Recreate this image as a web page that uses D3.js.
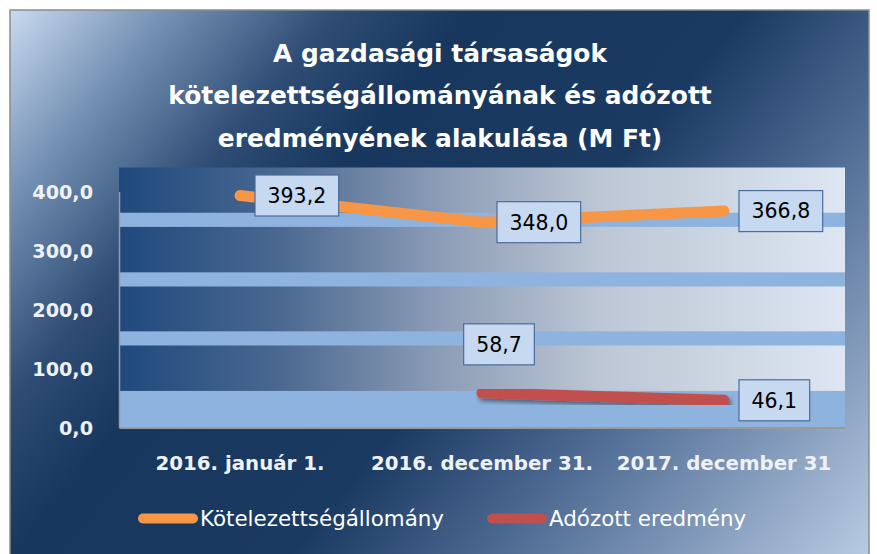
<!DOCTYPE html>
<html>
<head>
<meta charset="utf-8">
<script src="https://cdn.jsdelivr.net/npm/d3@7"></script>
<style>
  html, body { margin: 0; padding: 0; background: #ffffff; }
  svg { display: block; }
</style>
</head>
<body>
<svg id="chart" width="877" height="554"></svg>
<script>
// ---- data ----
const titleLines = [
  "A gazdasági társaságok",
  "kötelezettségállományának és adózott",
  "eredményének alakulása (M Ft)"
];
const categories = ["2016. január 1.", "2016. december 31.", "2017. december 31"];
const seriesNames = ["Kötelezettségállomány", "Adózott eredmény"];
const kotelezettseg = [393.2, 348.0, 366.8];
const adozott = [null, 58.7, 46.1];
const yTickValues = [0, 100, 200, 300, 400];
const bandRanges = [[0, 62], [139, 163], [239, 263], [340, 364]];

// ---- setup ----
const W = 877, H = 554;
const svg = d3.select("#chart");
const defs = svg.append("defs");

const outerGrad = defs.append("linearGradient")
  .attr("id", "outerGrad").attr("gradientUnits", "userSpaceOnUse")
  .attr("x1", 10).attr("y1", 10).attr("x2", 782).attr("y2", 658);
[[0, "#c9daf0"], [0.12, "#7591b4"], [0.25, "#2e4c74"], [0.35, "#17375e"],
 [0.56, "#1a3a62"], [0.7, "#48658e"], [0.85, "#7f97b8"], [1, "#b8cbe3"]]
  .forEach(([o, c]) => outerGrad.append("stop").attr("offset", o).attr("stop-color", c));

const plotGrad = defs.append("linearGradient")
  .attr("id", "plotGrad").attr("x1", 0).attr("y1", 0).attr("x2", 1).attr("y2", 0);
[[0, "#1f497d"], [0.22, "#4a6890"], [0.44, "#8c9cb6"], [0.66, "#bcc6d4"], [1, "#dde6f2"]]
  .forEach(([o, c]) => plotGrad.append("stop").attr("offset", o).attr("stop-color", c));

const shadow = defs.append("filter").attr("id", "shadow")
  .attr("x", "-20%").attr("y", "-50%").attr("width", "140%").attr("height", "200%");
shadow.append("feDropShadow").attr("dx", 2).attr("dy", 3).attr("stdDeviation", 2)
  .attr("flood-color", "#000").attr("flood-opacity", 0.45);

// outer chart area
svg.append("rect").attr("x", 10).attr("y", 10).attr("width", 859).attr("height", 560)
  .attr("fill", "url(#outerGrad)").attr("stroke", "#8c8c8c").attr("stroke-width", 1.5);

// title
svg.append("g").selectAll("text").data(titleLines).join("text")
  .attr("x", 440).attr("y", (d, i) => 53 + i * 42.5)
  .attr("text-anchor", "middle").attr("dy", "0.36em")
  .attr("font-family", "DejaVu Sans").attr("font-weight", "bold")
  .attr("font-size", 24.9).attr("fill", "#ffffff")
  .text(d => d);

// scales
const plotLeft = 119, plotRight = 845, plotTop = 167.5;
const x = d3.scaleBand().domain(categories).range([plotLeft, plotRight]);
const y = d3.scaleLinear().domain([0, 400]).range([427.5, 191.5]);
const cx = c => x(c) + x.bandwidth() / 2;

// plot background
svg.append("rect").attr("x", plotLeft).attr("y", plotTop)
  .attr("width", plotRight - plotLeft).attr("height", y(0) - plotTop)
  .attr("fill", "url(#plotGrad)");
svg.append("g").selectAll("rect").data(bandRanges).join("rect")
  .attr("x", plotLeft).attr("width", plotRight - plotLeft)
  .attr("y", d => y(d[1])).attr("height", d => y(d[0]) - y(d[1]))
  .attr("fill", "#8fb3df");

// axes
const fmt = v => d3.format(".1f")(v).replace(".", ",");
const yAxis = svg.append("g").attr("transform", `translate(${plotLeft},0)`)
  .call(d3.axisLeft(y).tickValues(yTickValues).tickSize(0).tickSizeOuter(0).tickPadding(26).tickFormat(fmt));
yAxis.select(".domain").attr("stroke", "#9a9a9a").attr("stroke-width", 1.5);
yAxis.selectAll("text").attr("font-family", "DejaVu Sans").attr("font-weight", "bold")
  .attr("font-size", 19.2).attr("fill", "#eef1f5").attr("dy", "0.36em");

const xAxis = svg.append("g").attr("transform", `translate(0,${y(0)})`)
  .call(d3.axisBottom(x).tickSize(0).tickSizeOuter(0));
xAxis.select(".domain").attr("stroke", "#9a9a9a").attr("stroke-width", 2);
xAxis.selectAll("text").attr("font-family", "DejaVu Sans").attr("font-weight", "bold")
  .attr("font-size", 19.8).attr("fill", "#eef1f5").attr("y", 35).attr("dy", "0.36em");

// lines
const series = [
  { name: seriesNames[0], values: kotelezettseg, color: "#f79646", filter: null },
  { name: seriesNames[1], values: adozott, color: "#c0504d", filter: "url(#shadow)" }
];
const line = d3.line().defined(d => d.v != null).x(d => cx(d.c)).y(d => y(d.v));
series.forEach(s => {
  const pts = categories.map((c, i) => ({ c, v: s.values[i] }));
  svg.append("path").datum(pts).attr("d", line)
    .attr("fill", "none").attr("stroke", s.color).attr("stroke-width", 11)
    .attr("stroke-linecap", "round").attr("stroke-linejoin", "round")
    .attr("filter", s.filter);
});

// data labels
const labelNudge = { "1-1": { dx: 17, dy: -48.5, center: true } };
const labelG = svg.append("g");
series.forEach((s, si) => {
  s.values.forEach((v, i) => {
    if (v == null) return;
    const px = cx(categories[i]), py = y(v);
    const g = labelG.append("g");
    const t = g.append("text").text(fmt(v))
      .attr("font-family", "DejaVu Sans").attr("font-size", 20.5)
      .attr("fill", "#000").attr("text-anchor", "middle").attr("dy", "0.36em");
    const tw = t.node().getComputedTextLength();
    const bw = tw + 25, bh = 41;
    const n = labelNudge[`${si}-${i}`];
    let bx, by;
    if (n) { bx = px + n.dx - bw / 2; by = py + n.dy - bh / 2; }
    else { bx = px + 15; by = py - bh / 2; }
    g.insert("rect", "text").attr("x", bx).attr("y", by).attr("width", bw).attr("height", bh)
      .attr("fill", "#c6d9f1").attr("stroke", "#4a6c9b").attr("stroke-width", 1.2);
    t.attr("x", bx + bw / 2).attr("y", by + bh / 2);
  });
});

// legend
const legendItems = [
  { name: seriesNames[0], color: "#f79646", x: 138 },
  { name: seriesNames[1], color: "#c0504d", x: 487 }
];
const lg = svg.append("g").selectAll("g").data(legendItems).join("g")
  .attr("transform", d => `translate(${d.x},518.5)`);
lg.append("line").attr("x1", 5).attr("x2", 55).attr("y1", 0).attr("y2", 0)
  .attr("stroke", d => d.color).attr("stroke-width", 10).attr("stroke-linecap", "round");
lg.append("text").attr("x", 62).attr("dy", "0.36em")
  .attr("font-family", "DejaVu Sans").attr("font-size", 21.4).attr("fill", "#ffffff")
  .text(d => d.name);
</script>
</body>
</html>
